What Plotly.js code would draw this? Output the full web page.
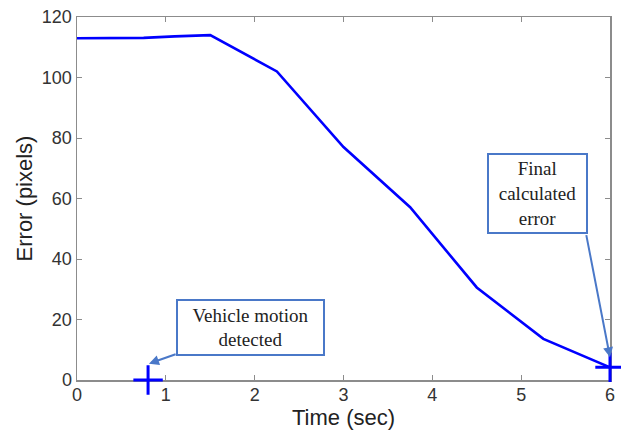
<!DOCTYPE html>
<html><head><meta charset="utf-8">
<script src="https://cdn.plot.ly/plotly-3.0.1.min.js"></script>
<style>body{margin:0;background:#fff}</style>
</head><body><div id="chart" style="width:621px;height:445px"></div>
<script>
const timeSec = [0, 0.75, 1.1, 1.5, 2.25, 3.0, 3.75, 4.5, 5.25, 6.0];
const errorPx = [113, 113.1, 113.6, 114, 102, 77, 57.1, 30.6, 13.6, 4.2];
const markX = [0.8, 6.0];
const markY = [0, 4.2];
const xTicks = [0, 1, 2, 3, 4, 5, 6];
const yTicks = [0, 20, 40, 60, 80, 100, 120];
const boxColor = '#4a78c8';
const serif = 'Liberation Serif, Times New Roman, serif';
const sans = 'Liberation Sans, Arial, sans-serif';

const traces = [
  {x: timeSec, y: errorPx, type: 'scatter', mode: 'lines',
   line: {color: '#0000ff', width: 2.6}, hoverinfo: 'skip'},
  {x: markX, y: markY, type: 'scatter', mode: 'markers', cliponaxis: false,
   marker: {symbol: 'cross-thin', size: 21, color: '#0000ff', line: {color: '#0000ff', width: 3}}}
];

const axisCommon = {
  showgrid: false, zeroline: false, showline: true, linecolor: '#8c8c8c', linewidth: 1.5,
  mirror: 'ticks', ticks: 'inside', ticklen: 5, tickcolor: '#8c8c8c', tickwidth: 1,
  layer: 'below traces',
  tickfont: {family: sans, size: 18, color: '#333'}
};

const layout = {
  width: 621, height: 445,
  margin: {l: 77, r: 11, t: 17, b: 65},
  paper_bgcolor: '#fff', plot_bgcolor: '#fff',
  showlegend: false,
  xaxis: Object.assign({}, axisCommon, {range: [0, 6], tickvals: xTicks, ticklabelstandoff: -2,
    title: {text: 'Time (sec)', font: {family: sans, size: 22, color: '#222'}, standoff: 4}}),
  yaxis: Object.assign({}, axisCommon, {range: [0, 120], tickvals: yTicks,
    title: {text: 'Error (pixels)', font: {family: sans, size: 22, color: '#222'}, standoff: 3}}),
  annotations: [
    {x: 1.956, y: 17.5, xref: 'x', yref: 'y', text: 'Vehicle motion<br>detected', showarrow: false,
     font: {family: serif, size: 19, color: '#222'}, bordercolor: boxColor, borderwidth: 2,
     bgcolor: '#fff', width: 143, height: 51, borderpad: 1, xanchor: 'center', yanchor: 'middle'},
    {x: 5.18, y: 61.5, xref: 'x', yref: 'y', text: 'Final<br>calculated<br>error', showarrow: false,
     font: {family: serif, size: 19, color: '#222'}, bordercolor: boxColor, borderwidth: 2,
     bgcolor: '#fff', width: 95, height: 75, borderpad: 1, xanchor: 'center', yanchor: 'middle'},
    {x: 0.81, y: 5.4, ax: 1.127, ay: 8.7, xref: 'x', yref: 'y', axref: 'x', ayref: 'y',
     text: '', showarrow: true, arrowhead: 2, arrowsize: 1, arrowwidth: 2, arrowcolor: boxColor},
    {x: 6.0, y: 7.5, ax: 5.73, ay: 48.4, xref: 'x', yref: 'y', axref: 'x', ayref: 'y',
     text: '', showarrow: true, arrowhead: 2, arrowsize: 1, arrowwidth: 2, arrowcolor: boxColor}
  ]
};

Plotly.newPlot('chart', traces, layout, {displayModeBar: false, staticPlot: true});
</script></body></html>
